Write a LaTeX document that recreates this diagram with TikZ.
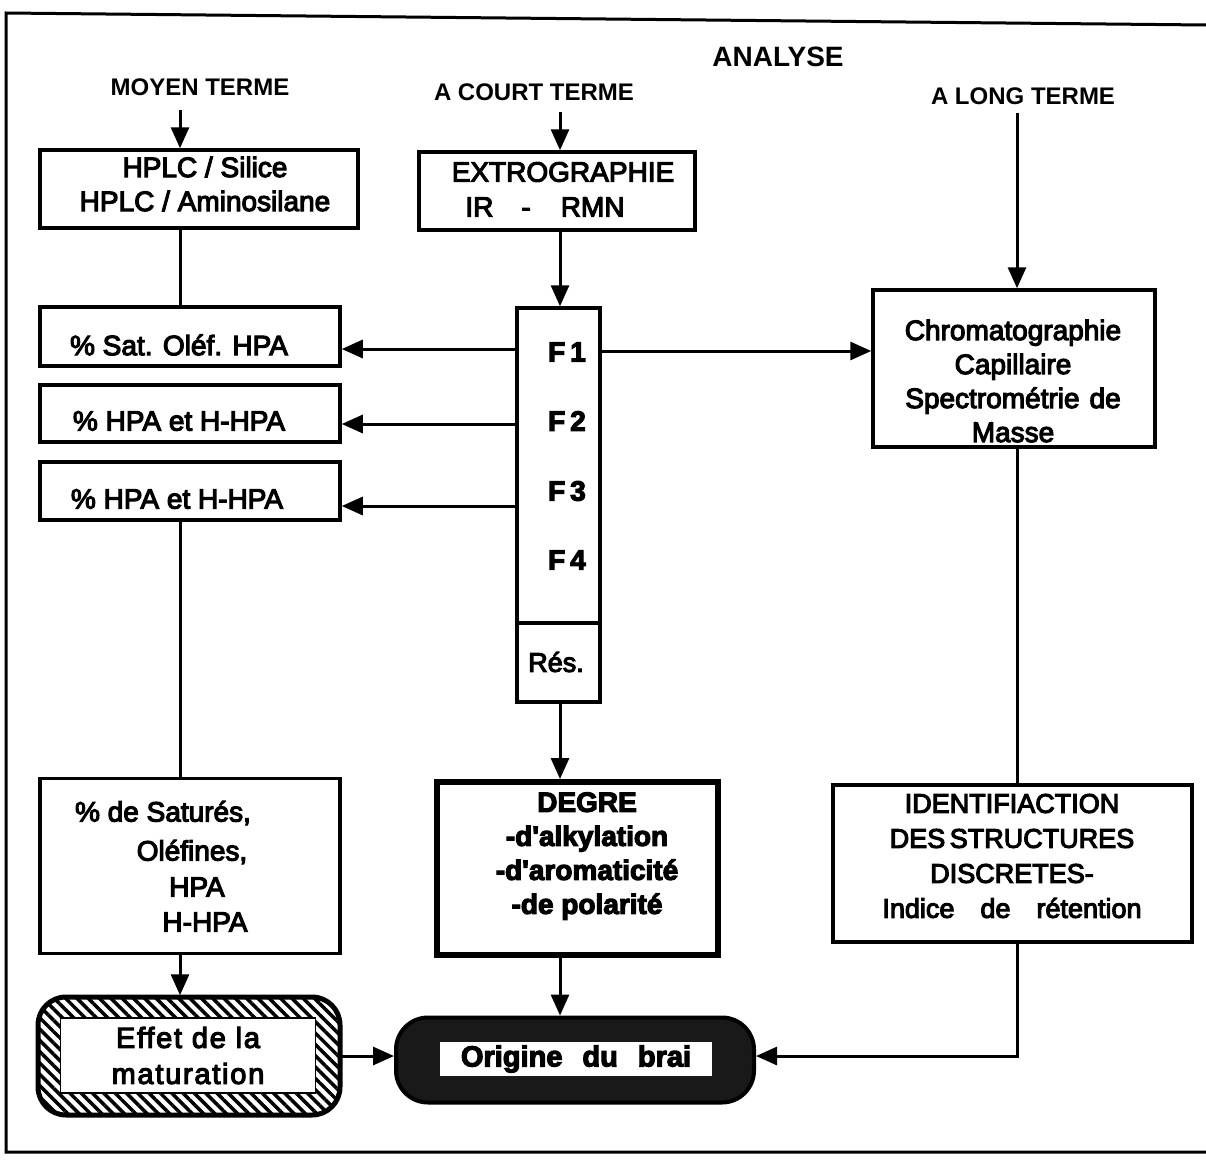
\documentclass[tikz,border=0pt]{standalone}
\usepackage{fontspec}
\setmainfont{Liberation Sans}
\newfontfamily\medf[FakeBold=4]{Liberation Sans}
\newfontfamily\heavyf[FakeBold=4]{Liberation Sans}
\newfontfamily\spacedf[FakeBold=4,LetterSpace=6]{Liberation Sans}
\usetikzlibrary{arrows.meta,patterns.meta,calc}
\begin{document}
\begin{tikzpicture}[x=1pt,y=-1pt,
  box/.style={draw, line width=3.5pt, inner sep=0pt},
  hdr/.style={inner sep=0pt, font=\bfseries\fontsize{24}{28}\selectfont},
  txt/.style={inner sep=0pt, align=center, font=\medf\fontsize{28}{34}\selectfont},
  flab/.style={inner sep=0pt, anchor=east, font=\heavyf\bfseries\fontsize{28}{30}\selectfont},
  conn/.style={line width=3pt},
  arr/.style={conn, -{Triangle[length=21pt,width=18pt]}},
]
\useasboundingbox (0,0) rectangle (1206,1159);
% frame
\draw[line width=3pt] (1206,25) -- (6,13) -- (6,1152) -- (1206,1152);

% headers
\node[inner sep=0pt, font=\bfseries\fontsize{28}{32}\selectfont] (ana) at (778,57) {ANALYSE};
\node[hdr] (moy) at (200,87) {MOYEN TERME};
\node[hdr] (court) at (534,92) {A COURT TERME};
\node[hdr] (long) at (1023,96) {A LONG TERME};

% boxes
\node[box, minimum width=318pt, minimum height=78pt] (b1) at (199,189) {};
\node[txt] (b1t) at (205,184) {HPLC / Silice\\HPLC / Aminosilane};

\node[box, minimum width=276pt, minimum height=78pt] (b2) at (557,191) {};
\node[txt] (b2ta) at (563,172) {EXTROGRAPHIE};
\node[txt] (b2tb) at (545,207) {IR\hspace{28pt}-\hspace{30pt}RMN};

\node[box, minimum width=83pt, minimum height=394pt] (F) at (558.5,505) {};
\coordinate (fdiv) at (0,623);
\draw[line width=3.5pt] (F.west |- fdiv) -- (F.east |- fdiv);
\node[flab] (f1) at (586,352) {F\hspace{5pt}1};
\node[flab] (f2) at (586,421) {F\hspace{5pt}2};
\node[flab] (f3) at (586,491) {F\hspace{5pt}3};
\node[flab] (f4) at (586,560) {F\hspace{5pt}4};
\node[txt, font=\medf\fontsize{27}{32}\selectfont] (res) at (556,662) {Rés.};

\node[box, minimum width=300pt, minimum height=59pt] (b3) at (190,336.5) {};
\node[txt] (b3t) at (179,345) {\% Sat. Oléf. HPA};
\node[box, minimum width=300pt, minimum height=57pt] (b4) at (190,413.5) {};
\node[txt] (b4t) at (179,421) {\% HPA et H-HPA};
\node[box, minimum width=300pt, minimum height=58pt] (b5) at (190,491) {};
\node[txt] (b5t) at (177,499) {\% HPA et H-HPA};

\node[box, minimum width=282pt, minimum height=157pt] (chrom) at (1014,368.5) {};
\node[txt] (chromt) at (1013,381) {Chromatographie\\Capillaire\\Spectrométrie\hspace{10pt}de\\Masse};

\node[box, minimum width=359pt, minimum height=157pt] (ident) at (1012.5,863.5) {};
\node[txt, font=\medf\fontsize{27}{35}\selectfont] (identt) at (1012,856) {IDENTIFIACTION\\DES\,STRUCTURES\\DISCRETES-\\Indice\hspace{26pt}de\hspace{26pt}rétention};

\node[box, minimum width=300pt, minimum height=175pt] (b6) at (190,866) {};
\node[txt] (b6a) at (163,813) {\% de Saturés,};
\node[txt] (b6b) at (192,852) {Oléfines,};
\node[txt] (b6c) at (197,887) {HPA};
\node[txt] (b6d) at (205,922) {H-HPA};

\node[box, line width=6pt, minimum width=281pt, minimum height=173pt] (degre) at (577.5,868.5) {};
\node[inner sep=0pt, align=center, font=\heavyf\bfseries\fontsize{28}{34}\selectfont] (degret) at (587,856) {DEGRE\\-d'alkylation\\-d'aromaticité\\-de polarité};

% hatched box
\node[draw, line width=5pt, rounded corners=28pt, minimum width=302pt, minimum height=118pt,
      pattern={Lines[angle=-45,distance=8pt,line width=3.5pt]}] (eff) at (189,1056) {};
\node[draw, fill=white, line width=1.8pt, minimum width=255pt, minimum height=75pt, inner sep=0pt,
      align=center, font=\spacedf\fontsize{29}{36}\selectfont] (efft) at (188,1055.5) {Effet de la\\maturation};

% dark box
\node[draw, line width=4pt, rounded corners=32pt, fill=black!90, minimum width=358pt, minimum height=85pt] (orig) at (575,1060) {};
\node[fill=white, minimum width=272pt, minimum height=34pt, inner sep=0pt,
      font=\heavyf\bfseries\fontsize{29}{34}\selectfont] (origt) at (576,1059) {Origine\hspace{20pt}du\hspace{20pt}brai};

% connector coordinates
\coordinate (mS) at (180,110);
\coordinate (cS) at (560,112);
\coordinate (lS) at (1017,113);
\coordinate (f1w) at (517,349);
\coordinate (f2w) at (517,424);
\coordinate (f3w) at (517,506);
\coordinate (f1e) at (600,351);
\coordinate (hy) at (0,1056);

\draw[arr] (mS) -- (mS |- b1.north);
\draw[arr] (cS) -- (cS |- b2.north);
\draw[arr] (lS) -- (lS |- chrom.north);
\draw[arr] (cS |- b2.south) -- (cS |- F.north);
\draw[conn] (mS |- b1.south) -- (mS |- b3.north);
\draw[arr] (f1w) -- (f1w -| b3.east);
\draw[arr] (f2w) -- (f2w -| b4.east);
\draw[arr] (f3w) -- (f3w -| b5.east);
\draw[arr] (f1e) -- (f1e -| chrom.west);
\draw[conn] (lS |- chrom.south) -- (lS |- ident.north);
\draw[conn] (mS |- b5.south) -- (mS |- b6.north);
\draw[arr] (mS |- b6.south) -- (mS |- eff.north);
\draw[arr] (cS |- F.south) -- (cS |- degre.north);
\draw[arr] (cS |- degre.south) -- (cS |- orig.north);
\draw[arr] (eff.east |- hy) -- (orig.west |- hy);
\draw[arr] (lS |- ident.south) -- (lS |- hy) -- (orig.east |- hy);
\end{tikzpicture}
\end{document}
